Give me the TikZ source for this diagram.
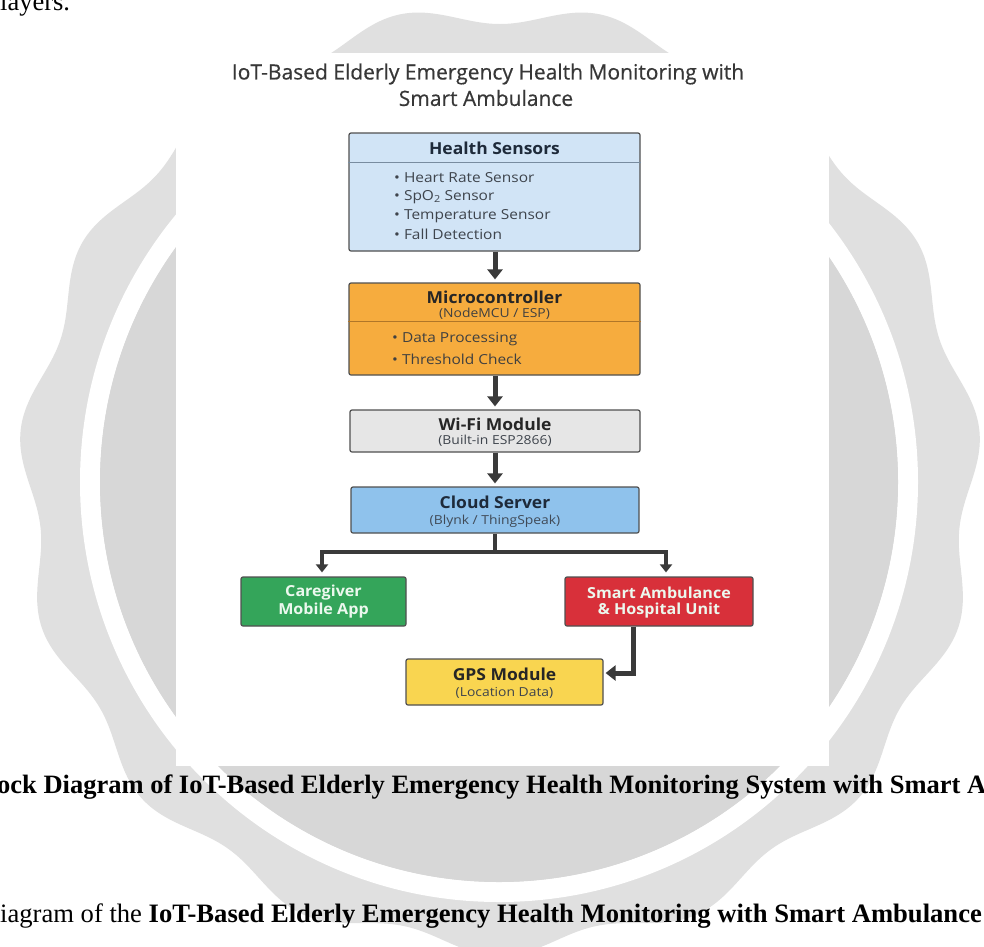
\documentclass[tikz,border=0pt]{standalone}
\usepackage{fontspec}
\setmainfont{Liberation Serif}
\newfontfamily\osans{Open Sans}
\newfontfamily\osanst[FakeStretch=1.06]{Open Sans}
\newfontfamily\osanswide[FakeStretch=1.12]{Open Sans}
\newfontfamily\osanstitle[FakeBold=0.5]{Open Sans}
\usetikzlibrary{arrows.meta}
\definecolor{wmout}{RGB}{224,224,224}
\definecolor{wmin}{RGB}{215,215,215}
\definecolor{hsfill}{RGB}{209,228,246}
\definecolor{hsline}{RGB}{120,140,160}
\definecolor{mcfill}{RGB}{246,172,62}
\definecolor{mcline}{RGB}{176,118,40}
\definecolor{wffill}{RGB}{230,230,230}
\definecolor{csfill}{RGB}{143,194,236}
\definecolor{cgfill}{RGB}{52,165,90}
\definecolor{safill}{RGB}{216,48,58}
\definecolor{gpsfill}{RGB}{249,213,80}
\definecolor{edgec}{RGB}{80,80,80}
\definecolor{arrowc}{RGB}{58,58,58}
\definecolor{navy}{RGB}{30,42,58}
\definecolor{txtc}{RGB}{62,68,76}
\definecolor{titlec}{RGB}{55,55,55}
\definecolor{lighttxt}{RGB}{236,248,238}
\begin{document}
\begin{tikzpicture}[x=1pt,y=-1pt,
  box/.style={draw=edgec, line width=1.2pt, rounded corners=2pt, inner sep=0pt},
  ttl/.style={inner sep=0pt, font=\osanst\bfseries\fontsize{16.5}{19}\selectfont, text=navy},
  sub/.style={inner sep=0pt, font=\osanswide\fontsize{12.4}{15}\selectfont, text=txtc},
  blt/.style={inner sep=0pt, anchor=west, font=\osanswide\fontsize{13.8}{17}\selectfont, text=txtc},
  wtxt/.style={inner sep=0pt, font=\osanst\bfseries\fontsize{15.2}{18}\selectfont, text=lighttxt},
  maintitle/.style={inner sep=0pt, font=\osanstitle\fontsize{21}{24}\selectfont, text=titlec},
  capt/.style={inner sep=0pt, anchor=base west, font=\fontsize{26.5}{30}\selectfont},
  flow/.style={draw=arrowc, line width=5pt, -{Triangle[width=15pt,length=10pt]}, shorten >=3pt},
  branchline/.style={draw=arrowc, line width=3.2pt},
  branch/.style={draw=arrowc, line width=3.2pt, -{Triangle[width=12pt,length=8pt]}, shorten >=4pt}
]
\useasboundingbox (0,0) rectangle (984,946);
\fill[white] (0,0) rectangle (984,946);
% watermark seal
\fill[wmout] plot[domain=0:360, samples=721] ({500+(472-10*cos(15*\x))*sin(\x)}, {480-(466-10*cos(15*\x))*cos(\x)}) -- cycle;
\fill[white, even odd rule] (499,482) ellipse [x radius=419, y radius=420] (499,482) ellipse [x radius=399, y radius=400];
\fill[wmin] (499,482) ellipse [x radius=399, y radius=400];
% surrounding text
\node[capt] (lay) at (0,10) {layers.};
\node[capt, font=\bfseries\fontsize{26.5}{30}\selectfont] (cap1) at (-3,793) {ock Diagram of IoT-Based Elderly Emergency Health Monitoring System with Smart A};
\node[capt, font=\fontsize{26.6}{30}\selectfont] (cap2) at (0,922) {iagram of the \textbf{IoT-Based Elderly Emergency Health Monitoring with Smart Ambulance}};
% panel
\fill[white] (176,53) rectangle (829,766);
\node[maintitle] (t1) at (488,74) {IoT-Based Elderly Emergency Health Monitoring with};
\node[maintitle] (t2) at (486,98) {Smart Ambulance};
% boxes
\node[box, fill=hsfill, minimum width=291pt, minimum height=118pt] (hs) at (494.5,192) {};
\draw[hsline, line width=0.9pt] ([yshift=-30pt]hs.north west) -- ([yshift=-30pt]hs.north east);
\node[ttl] (hst) at (494.5,148) {Health Sensors};
\node[blt] (hs1) at (394,178) {• Heart Rate Sensor};
\node[blt] (hs2) at (394,197) {• SpO\textsubscript{2} Sensor};
\node[blt] (hs3) at (394,216) {• Temperature Sensor};
\node[blt] (hs4) at (394,234) {• Fall Detection};

\node[box, fill=mcfill, minimum width=291pt, minimum height=92pt] (mc) at (494.5,329) {};
\draw[mcline, line width=0.9pt] ([yshift=-39pt]mc.north west) -- ([yshift=-39pt]mc.north east);
\node[ttl, text=black!85] (mct) at (494.5,297.5) {Microcontroller};
\node[sub, text=black!75] (mcs) at (494.5,314) {(NodeMCU / ESP)};
\node[blt, text=black!75] (mc1) at (392,339) {• Data Processing};
\node[blt, text=black!75] (mc2) at (392,359) {• Threshold Check};

\node[box, fill=wffill, minimum width=290pt, minimum height=42pt] (wf) at (495,431) {};
\node[ttl, text=black!85] (wft) at (495,424) {Wi-Fi Module};
\node[sub] (wfs) at (495,441) {(Built-in ESP2866)};

\node[box, fill=csfill, minimum width=288pt, minimum height=46pt] (cs) at (495,510) {};
\node[ttl] (cst) at (495,502) {Cloud Server};
\node[sub, text=navy!85] (css) at (495,521.5) {(Blynk / ThingSpeak)};

\node[box, fill=cgfill, minimum width=165pt, minimum height=49pt] (cg) at (323.5,601.5) {};
\node[wtxt] (cg1) at (323.5,592.5) {Caregiver};
\node[wtxt] (cg2) at (323.5,611) {Mobile App};

\node[box, fill=safill, minimum width=188pt, minimum height=49pt] (sa) at (659,601.5) {};
\node[wtxt] (sa1) at (659,592.5) {Smart Ambulance};
\node[wtxt] (sa2) at (659,611) {\& Hospital Unit};

\node[box, fill=gpsfill, minimum width=197pt, minimum height=46pt] (gps) at (504.5,682) {};
\node[ttl, text=black!85] (gpst) at (504.5,674) {GPS Module};
\node[sub] (gpss) at (504.5,693) {(Location Data)};

% connectors
\draw[flow] (hs.south -| wf.north) -- (mc.north -| wf.north);
\draw[flow] (mc.south -| wf.north) -- (wf.north);
\draw[flow] (wf.south) -- (cs.north);
\coordinate (bm) at (495,552);
\coordinate (bl) at (322,552);
\coordinate (br) at (666,552);
\draw[branchline] (cs.south) -- (bm);
\draw[branchline, line cap=rect] (bl) -- (br);
\draw[branch] (bl) -- (bl |- cg.north);
\draw[branch] (br) -- (br |- sa.north);
\coordinate (gx) at (633,0);
\coordinate (gy) at (0,673);
\draw[flow, shorten >=2pt] (sa.south -| gx) |- (gps.east |- gy);
\end{tikzpicture}
\end{document}
